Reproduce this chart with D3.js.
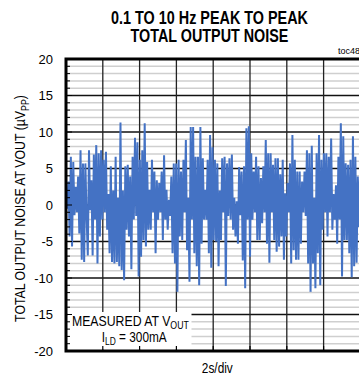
<!DOCTYPE html>
<html><head><meta charset="utf-8">
<script src="https://cdn.jsdelivr.net/npm/d3@7"></script>
<style>
html,body{margin:0;padding:0;background:#fff;overflow:hidden}
svg{display:block}
text{font-family:"Liberation Sans Narrow","Arial Narrow","Liberation Sans",Arial,sans-serif;fill:#000}
</style></head><body>
<svg id="chart" width="359" height="377"></svg>
<script>
// ---------- data ----------
const titleLines = ["0.1 TO 10 Hz PEAK TO PEAK", "TOTAL OUTPUT NOISE"];
const yTickValues = [-20, -15, -10, -5, 0, 5, 10, 15, 20];
const yMinorValues = d3.range(-20, 21, 1);
const xDomain = [0, 20];            // seconds (2 s/div, 10 div)
const xTickValues = [0, 2, 4, 6, 8, 10, 12, 14, 16, 18, 20];
const sampleInterval = 0.0658;      // s between samples
const noise = [
 1.8,-0.5,3.2,-4.3,6.6,-5.7,5.9,-1.4,2.5,-1,
 3.9,-3.9,7.5,-7.5,5.7,-7.8,5.7,-1.5,-6.9,7.5,
 -0.7,3.4,-6.9,6.9,-2,8.2,-8.0,7.1,-4.3,7.5,
 -2,6.2,-1,7.3,-3.4,1.5,-6.6,5.3,-7.8,2,
 -8.0,6.6,-7.8,1,-8.4,11.3,-8.9,2,-10.3,5.3,
 -3.4,5.5,-4.3,3.9,-8.8,6.6,-2,9.2,-1.5,8.6,
 -9.8,6.2,-7.1,
 7.5,-4.8,11.2,-5.7,5.9,-3.4,2.1,-3.4,6.2,-1,
 4.6,-6.6,3.4,-2.0,3.0,-1,4.6,-4.8,6.8,-2.0,
 2.1,-3.4,0.7,-1.5,3.9,-6.6,5.7,-8.0,5.7,-11.9,
 6.2,-4.3,4.6,-4.8,6.2,-1,8.9,-6.2,1,-10.5,
 10.7,-2,10.7,-6.6,6.6,-8.4,6.6,-11.0,10.7,-5.3,
 6.4,-2.0,2.1,-2.0,6.2,-6.6,9.6,-8.6,7.9,-4.8,
 6.2,
 -5.0,5.7,-8.4,2,-4.8,6.4,-1,6.6,-11.1,5.7,
 -1.5,6.4,-2.0,6.9,-3.4,1,-4.3,0.5,-5.3,5.2,
 -1.4,4.6,-7.6,5.3,-11.4,10.5,-2,10.8,-7.1,7.1,
 -2.0,4.6,-1,6.6,-4.8,5.3,-4.8,3.7,-2.5,5.3,
 -1,8.9,-5.3,7.1,-7.9,7.1,-1,5.5,-4.8,6.4,
 -6.4,6.4,-5.7,4.2,-4.3,6.2,-7.5,1.6,-4.3,3.0,
 -1,5.7,
 -8.0,9.6,-6.2,6.2,-7.5,4.6,-7.5,4.6,-5.3,3.2,
 -1,4.6,-1.5,7.5,-8.0,7.1,-11.9,8.1,-8.0,1,
 -11.4,7.1,-6.6,9.6,-11.0,6.2,-3.4,7.1,-1,7.1,
 -4.3,6.6,-1,9.1,-3.4,1.5,-2.0,2.7,-5.3,6.6,
 -2,11.2,-9.8,9.4,-4.8,5.7,-4.8,5.5,-6.6,6.2,
 -9.9,9.4,-8.4,6.6,-7.9,3.9,-3,5
];

// ---------- layout ----------
const svg = d3.select("#chart");
const L = 66, T = 59, B = 351, R = 434;
const x = d3.scaleLinear().domain(xDomain).range([L, R]);
const y = d3.scaleLinear().domain([-20, 20]).range([B, T]);

function fit(sel, target, tx, ty, rot) {
  const w = sel.node().getComputedTextLength();
  const s = target / w;
  sel.attr("x", 0).attr("y", 0)
     .attr("transform", `translate(${tx},${ty})${rot ? " rotate(" + rot + ")" : ""} scale(${s},1)`);
}

// minor horizontal grid
svg.append("g").selectAll("line").data(yMinorValues.filter(v => v % 5 !== 0)).join("line")
  .attr("x1", L).attr("x2", R).attr("y1", d => y(d)).attr("y2", d => y(d))
  .attr("stroke", "#cfcfcf").attr("stroke-width", 1.5);
// major horizontal grid
svg.append("g").selectAll("line").data(yTickValues).join("line")
  .attr("x1", L).attr("x2", R).attr("y1", d => y(d)).attr("y2", d => y(d))
  .attr("stroke", "#111").attr("stroke-width", 1.3);
// vertical grid
svg.append("g").selectAll("line").data(xTickValues).join("line")
  .attr("x1", d => x(d)).attr("x2", d => x(d)).attr("y1", T).attr("y2", B)
  .attr("stroke", "#222").attr("stroke-width", 1.3);

// waveform
const line = d3.line().x((d, i) => x(i * sampleInterval)).y(d => y(d));
svg.append("path").datum(noise).attr("d", line)
  .attr("fill", "none").attr("stroke", "#4472C4").attr("stroke-width", 2)
  .attr("stroke-linejoin", "miter");

// legend box
svg.append("rect").attr("x", 67.5).attr("y", 312).attr("width", 124).attr("height", 37.5).attr("fill", "#fff");

// ticks (inward)
svg.append("g").selectAll("line").data(yMinorValues).join("line")
  .attr("x1", L).attr("x2", d => L + (d % 5 === 0 ? 6 : 4)).attr("y1", d => y(d)).attr("y2", d => y(d))
  .attr("stroke", "#000").attr("stroke-width", 1);
svg.append("g").selectAll("line").data(xTickValues).join("line")
  .attr("x1", d => x(d)).attr("x2", d => x(d)).attr("y1", B).attr("y2", B - 5)
  .attr("stroke", "#000").attr("stroke-width", 1.2);

// frame
svg.append("path").attr("d", `M${R},${T}H${L}V${B}H${R}`)
  .attr("fill", "none").attr("stroke", "#000").attr("stroke-width", 3);

// y tick labels
svg.append("g").selectAll("text").data(yTickValues).join("text")
  .attr("x", 53).attr("y", d => y(d)).attr("dy", "0.36em").attr("text-anchor", "end")
  .style("font-family", "'Liberation Sans',Arial,sans-serif").style("font-size", "13px")
  .text(d => d);

// title
const t1 = svg.append("text").attr("text-anchor", "middle").style("font-size", "18px").style("font-weight", "bold").text(titleLines[0]);
fit(t1, 197, 209.5, 24);
const t2 = svg.append("text").attr("text-anchor", "middle").style("font-size", "18px").style("font-weight", "bold").text(titleLines[1]);
fit(t2, 158, 209.5, 42);

// toc label
svg.append("text").attr("x", 338).attr("y", 54).style("font-family", "'Liberation Sans',Arial,sans-serif").style("font-size", "9px").text("toc48");

// y axis title
const yt = svg.append("text").attr("text-anchor", "middle").style("font-size", "14px");
yt.append("tspan").text("TOTAL OUTPUT NOISE AT VOUT (µV");
yt.append("tspan").attr("dy", 4).style("font-size", "10px").text("PP");
yt.append("tspan").attr("dy", -4).text(")");
fit(yt, 227, 24.5, 208.5, -90);

// legend text
const l1 = svg.append("text").attr("text-anchor", "middle").style("font-size", "14px");
l1.append("tspan").text("MEASURED AT V");
l1.append("tspan").attr("dy", 3).style("font-size", "10px").text("OUT");
fit(l1, 117, 130.4, 325.5);
const l2 = svg.append("text").attr("text-anchor", "middle").style("font-size", "14px");
l2.append("tspan").text("I");
l2.append("tspan").attr("dy", 3).style("font-size", "10px").text("LD");
l2.append("tspan").attr("dy", -3).text(" = 300mA");
fit(l2, 65, 134.2, 341.5);

// x label
const xl = svg.append("text").attr("text-anchor", "middle").style("font-size", "14px").text("2s/div");
fit(xl, 31, 217.3, 373);
</script>
</body></html>
